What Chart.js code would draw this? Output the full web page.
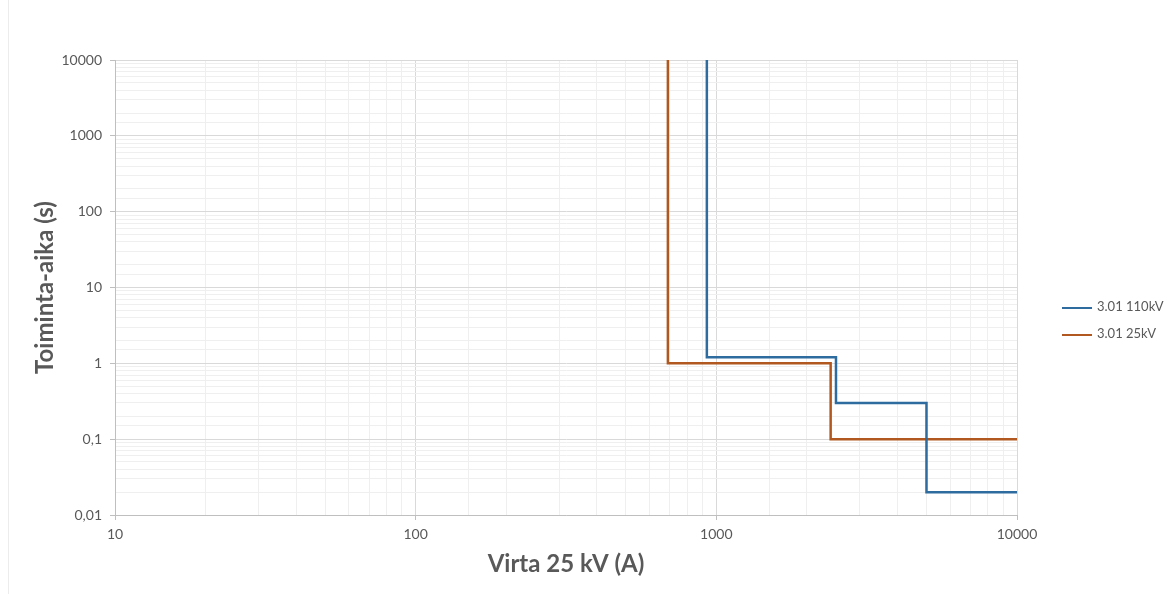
<!DOCTYPE html>
<html>
<head>
<meta charset="utf-8">
<script src="https://cdn.jsdelivr.net/npm/chart.js@4/dist/chart.umd.min.js"></script>
<style>
    body { margin: 0; background: #fff; }
    #wrap { position: relative; width: 1175px; height: 594px; }
    #frame { position: absolute; left: 8px; top: 0; width: 1px; height: 594px; background: #ececec; }
    .legend { position: absolute; left: 1062px; font: 13px Lato, sans-serif; color: #595959; }
    .legend span.line { display: inline-block; width: 30px; height: 2px; vertical-align: middle; margin-right: 5px; }
</style>
</head>
<body>
<div id="wrap">
    <div id="frame"></div>
    <canvas id="relayChart"></canvas>
    <div class="legend" style="top:298px"><span class="line" style="background:#2e6b9e"></span>3.01 110kV</div>
    <div class="legend" style="top:325px"><span class="line" style="background:#b0581f"></span>3.01 25kV</div>
</div>
<script>
// corner points of the stepped curves (current A, time s)
const hvCurrent = [930, 930, 2500, 2500, 5000, 5000, 10000];
const hvTime    = [10000, 1.2, 1.2, 0.3, 0.3, 0.02, 0.02];
const mvCurrent = [690, 690, 2400, 2400, 10000];
const mvTime    = [10000, 1, 1, 0.1, 0.1];

const seriesNames = ['3.01 110kV', '3.01 25kV'];
const xTickLabels = ['10', '100', '1000', '10000'];
const yTickLabels = ['0,01', '0,1', '1', '10', '100', '1000', '10000'];

function toPoints(xs, ys) {
    return xs.map(function (x, i) { return { x: x, y: ys[i] }; });
}

function isMajor(v) {
    const l = Math.log10(v);
    return Math.abs(l - Math.round(l)) < 1e-6;
}

function majorLabel(v, labels, first) {
    if (!isMajor(v)) return '';
    return labels[Math.round(Math.log10(v)) - first];
}

const gridColor = function (ctx) { return isMajor(ctx.tick.value) ? '#d9d9d9' : '#efefef'; };
const tickMarkColor = function (ctx) { return isMajor(ctx.tick.value) ? '#bfbfbf' : 'rgba(0,0,0,0)'; };
const tickFont = { family: 'Lato', size: 14 };
const titleFont = { family: 'Lato', size: 24, weight: 'bold' };

new Chart(document.getElementById('relayChart'), {
    type: 'scatter',
    data: {
        datasets: [{
            label: seriesNames[0],
            data: toPoints(hvCurrent, hvTime),
            showLine: true,
            borderColor: '#2e6b9e',
            borderWidth: 2.5,
            pointRadius: 0
        }, {
            label: seriesNames[1],
            data: toPoints(mvCurrent, mvTime),
            showLine: true,
            borderColor: '#b0581f',
            borderWidth: 2.5,
            pointRadius: 0
        }]
    },
    options: {
        responsive: true,
        maintainAspectRatio: false,
        animation: false,
        layout: { padding: { top: 60, right: 158, left: 0, bottom: 0 } },
        plugins: {
            legend: { display: false },
            tooltip: { enabled: false }
        },
        scales: {
            x: {
                type: 'logarithmic',
                min: 10,
                max: 10000,
                border: { color: '#bfbfbf' },
                grid: { color: gridColor, tickColor: tickMarkColor, tickLength: 5 },
                ticks: {
                    autoSkip: false,
                    maxRotation: 0,
                    padding: 6,
                    color: '#595959',
                    font: tickFont,
                    callback: function (v) { return majorLabel(v, xTickLabels, 1); }
                },
                title: {
                    display: true,
                    text: 'Virta 25 kV (A)',
                    color: '#595959',
                    font: titleFont,
                    padding: { top: 0, bottom: 15 }
                },
                afterFit: function (scale) { scale.height = 79; }
            },
            y: {
                type: 'logarithmic',
                min: 0.01,
                max: 10000,
                border: { color: '#bfbfbf' },
                grid: { color: gridColor, tickColor: tickMarkColor, tickLength: 5 },
                ticks: {
                    autoSkip: false,
                    padding: 8,
                    color: '#595959',
                    font: tickFont,
                    callback: function (v) { return majorLabel(v, yTickLabels, -2); }
                },
                title: {
                    display: true,
                    text: 'Toiminta-aika (s)',
                    color: '#595959',
                    font: titleFont,
                    padding: { top: 31, bottom: 0 }
                },
                afterFit: function (scale) { scale.width = 115; }
            }
        }
    }
});
</script>
</body>
</html>
